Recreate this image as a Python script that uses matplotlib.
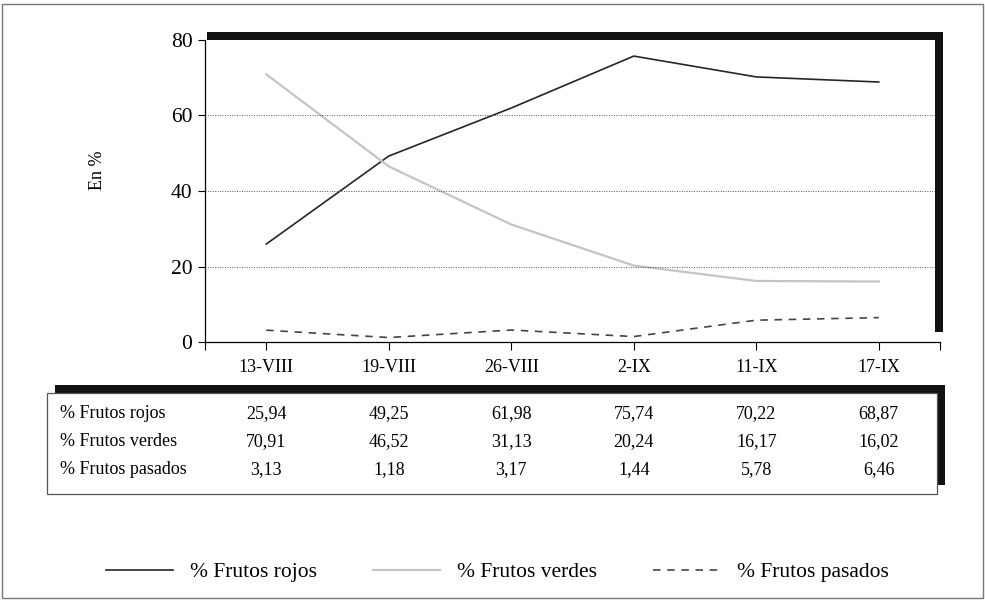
import matplotlib
matplotlib.use("Agg")
import matplotlib.pyplot as plt
from matplotlib.patches import Rectangle
import matplotlib.transforms as mtransforms

plt.rcParams['font.family'] = ['Liberation Serif', 'DejaVu Serif']

categories = ["13-VIII", "19-VIII", "26-VIII", "2-IX", "11-IX", "17-IX"]
rojos = [25.94, 49.25, 61.98, 75.74, 70.22, 68.87]
verdes = [70.91, 46.52, 31.13, 20.24, 16.17, 16.02]
pasados = [3.13, 1.18, 3.17, 1.44, 5.78, 6.46]
series_names = ["% Frutos rojos", "% Frutos verdes", "% Frutos pasados"]
yticks = [0, 20, 40, 60, 80]

W, H = 985, 604
fig = plt.figure(figsize=(W / 100, H / 100), dpi=100)

def fx(px):
    return px / W

def fy(py):
    return 1 - py / H

# outer frame
fig.patches.append(Rectangle((fx(2), fy(598)), fx(981), (596 - 2) / H, transform=fig.transFigure,
                             fill=False, edgecolor="#777777", linewidth=1.0, zorder=0))

# chart shadow
fig.patches.append(Rectangle((fx(207), fy(40)), fx(736), 8 / H, transform=fig.transFigure,
                             facecolor="#111111", edgecolor="none", zorder=1))
fig.patches.append(Rectangle((fx(935), fy(332)), fx(8), 300 / H, transform=fig.transFigure,
                             facecolor="#111111", edgecolor="none", zorder=1))

ax = fig.add_axes([fx(205), fy(342), fx(735), 302 / H])
ax.set_facecolor("none")
x = [i + 0.5 for i in range(len(categories))]
l1, = ax.plot(x, rojos, color="#262626", lw=1.2, label=series_names[0])
l2, = ax.plot(x, verdes, color="#c4c4c4", lw=1.6, label=series_names[1])
l3, = ax.plot(x, pasados, color="#444444", lw=1.2, dashes=(4.5, 4), label=series_names[2])

ax.set_xlim(0, 6)
ax.set_ylim(0, 80)
ax.set_yticks(yticks)
ax.set_yticklabels([str(v) for v in yticks], fontsize=15.5)
ax.set_xticks(x)
ax.set_xticklabels(categories, fontsize=13)
ax.set_xticks([0, 6], minor=True)
ax.tick_params(axis='x', which='both', direction='out', length=6, width=0.8, pad=6)
ax.tick_params(axis='y', direction='out', length=5, width=0.8, pad=4)
for v in yticks[1:4]:
    ax.axhline(v, color="#555555", lw=0.7, ls=(0, (1, 1.5)), xmax=0.995)
ax.spines['top'].set_visible(False)
ax.spines['right'].set_visible(False)
ax.spines['left'].set_linewidth(0.9)
ax.spines['bottom'].set_linewidth(0.9)

fig.text(fx(97), fy(170), "En %", rotation=90, ha="center", va="center", fontsize=13)

# data table
fig.patches.append(Rectangle((fx(55), fy(393)), fx(890), 8 / H, transform=fig.transFigure,
                             facecolor="#111111", edgecolor="none", zorder=1))
fig.patches.append(Rectangle((fx(937), fy(485)), fx(8), 100 / H, transform=fig.transFigure,
                             facecolor="#111111", edgecolor="none", zorder=1))
fig.patches.append(Rectangle((fx(47), fy(494)), fx(890), 101 / H, transform=fig.transFigure,
                             fill=False, edgecolor="#555555", linewidth=0.9, zorder=2))

trans = mtransforms.blended_transform_factory(ax.transData, fig.transFigure)
rows_y = [414, 442, 470]
for name, vals, ry in zip(series_names, [rojos, verdes, pasados], rows_y):
    fig.text(fx(60), fy(ry), name, ha="left", va="center", fontsize=13, zorder=3)
    for xi, v in zip(x, vals):
        ax.text(xi, fy(ry), f"{v:.2f}".replace(".", ","), transform=trans, ha="center",
                va="center", fontsize=13, zorder=3, clip_on=False)

fig.legend(handles=[l1, l2, l3], loc="center", bbox_to_anchor=(0.505, fy(572)), ncol=3,
           frameon=False, fontsize=15.5, handlelength=3.1, columnspacing=2.6, handletextpad=0.8)

fig.savefig("out.png", dpi=100)
